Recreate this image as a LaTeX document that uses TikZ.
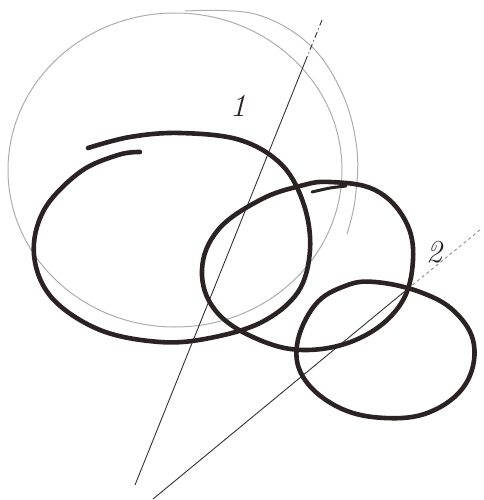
\documentclass[tikz,border=0pt]{standalone}
\begin{document}
\begin{tikzpicture}[x=1pt,y=-1pt,
  bold/.style={draw=inkc,line width=4.6pt,line cap=round,line join=round},
  faint/.style={draw=black!32,line width=1pt},
  axisline/.style={draw=black!80,line width=0.9pt},
  lbl/.style={font=\fontsize{32}{34}\selectfont\itshape,text=inkc}]
\definecolor{inkc}{HTML}{2B2323}
\useasboundingbox (0,0) rectangle (483,500);
% light construction circles
\draw[faint] (175,170) ellipse [x radius=167, y radius=157];
\draw[faint] plot[smooth,tension=0.6] coordinates {(185,11) (255,14) (310,45) (343,95) (357,150) (355,200) (347,234)};
% axis lines
\coordinate (a1) at (322,20);
\coordinate (a1m) at (305,62);
\coordinate (a1e) at (135,485);
\draw[axisline,dash pattern=on 6pt off 3pt on 1pt off 3pt] (a1) -- (a1m);
\draw[axisline] (a1m) -- (a1e);
\coordinate (a2) at (480,230);
\coordinate (a2m) at (410,287);
\coordinate (a2e) at (153,499);
\draw[axisline,draw=black!45,dashed] (a2) -- (a2m);
\draw[axisline] (a2m) -- (a2e);
% thick ellipse 1 (spiral start)
\draw[bold] plot[smooth,tension=0.6] coordinates {(88,148) (130,137) (180,133) (240,140) (282,165) (304,205) (310,250) (298,292) (262,322) (210,338) (160,342) (100,330) (52,298) (34,255) (44,210) (80,172) (118,155) (140,152)};
% thick ellipse 2
\draw[bold] plot[smooth cycle,tension=0.65] coordinates {(330,182) (375,190) (405,220) (413,260) (400,305) (360,338) (305,350) (255,338) (215,310) (202,270) (218,230) (260,200) (300,186)};
\draw[bold,line width=3pt] plot[smooth] coordinates {(312,192) (330,188) (346,186)};
% thick ellipse 3
\draw[bold] plot[smooth cycle,tension=0.65] coordinates {(375,282) (420,292) (455,312) (474,345) (465,385) (430,412) (385,418) (340,408) (305,380) (297,345) (315,305) (345,286)};
% labels
\node[lbl] (n1) at (238,106) {1};
\node[lbl] (n2) at (434,252) {2};
\end{tikzpicture}
\end{document}
